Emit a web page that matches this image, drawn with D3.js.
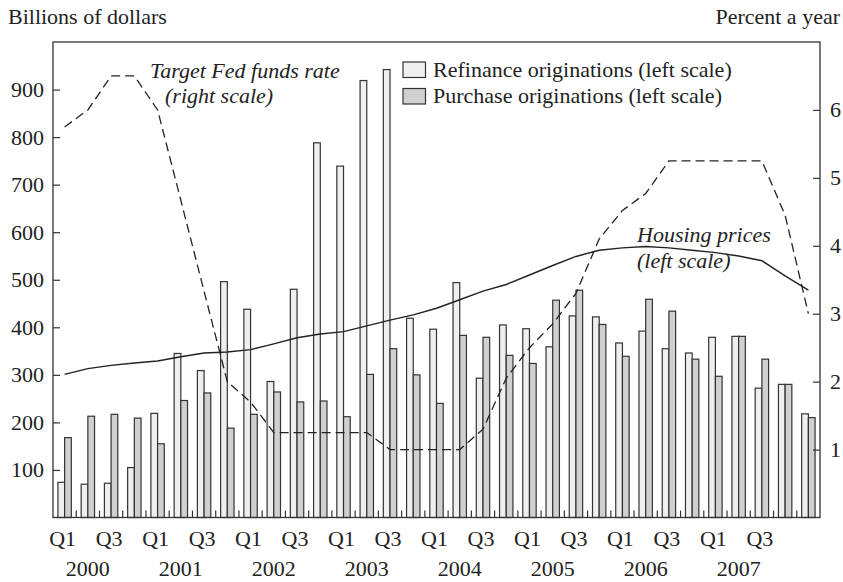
<!DOCTYPE html>
<html>
<head>
<meta charset="utf-8">
<script src="https://cdn.jsdelivr.net/npm/d3@7"></script>
<style>
  body { margin: 0; background: #fff; }
  svg text { font-family: "Liberation Serif", "Times New Roman", serif; fill: #222; }
</style>
</head>
<body>
<div id="chart"></div>
<script>
// quarters 2000 Q1 .. 2008 Q1
const quarters = d3.range(33)
const qLabels = ["Q1", "", "Q3", ""]
const years = ["2000", "2001", "2002", "2003", "2004", "2005", "2006", "2007"]

// billions of dollars
const refinance = [74, 70, 72, 105, 219, 345, 309, 496, 438, 286, 480, 788, 739, 919, 942, 419,
  396, 494, 293, 405, 397, 359, 424, 422, 367, 392, 355, 346, 379, 381, 272, 280, 218]
const purchase = [168, 213, 217, 209, 155, 246, 262, 188, 217, 264, 243, 245, 212, 301, 355, 300,
  240, 383, 379, 341, 324, 457, 478, 406, 339, 459, 434, 333, 297, 381, 333, 280, 210]
// housing prices, left scale
const housing = [301, 313, 320, 325, 329, 338, 346, 348, 353, 365, 378, 386, 391, 403, 415, 426,
  440, 458, 476, 490, 510, 530, 549, 562, 567, 570, 567, 562, 557, 550, 540, 508, 478]
// target fed funds rate, percent
const fedFunds = [5.75, 6.0, 6.5, 6.5, 6.0, 4.67, 3.33, 2.0, 1.7, 1.25, 1.25, 1.25, 1.25, 1.25, 1.0, 1.0,
  1.0, 1.0, 1.3, 2.05, 2.5, 2.85, 3.3, 4.1, 4.52, 4.77, 5.25, 5.25, 5.25, 5.25, 5.25, 4.45, 3.0]

const leftTicks = [100, 200, 300, 400, 500, 600, 700, 800, 900]
const rightTicks = [1, 2, 3, 4, 5, 6]

const width = 843, height = 582
const m = { left: 53, right: 820, top: 42, bottom: 517.5 }
const fontSize = 22

const svg = d3.select("#chart").append("svg")
  .attr("width", width)
  .attr("height", height)

const x = d3.scaleBand().domain(quarters).range([m.left, m.right]).padding(0)
const bw = x.bandwidth()
const barW = 6.7
const sub = d3.scaleBand().domain(["refi", "purch"]).range([bw / 2 - barW, bw / 2 + barW])
const y = d3.scaleLinear().domain([0, 1000]).range([m.bottom, m.top])
const yR = d3.scaleLinear().domain([0, 7]).range([m.bottom, m.top])

// bars
const g = svg.append("g")
g.selectAll("rect.refi")
  .data(refinance).enter()
  .append("rect")
  .attr("class", "refi")
  .attr("x", (d, i) => x(i) + sub("refi"))
  .attr("y", d => y(d))
  .attr("width", sub.bandwidth())
  .attr("height", d => y(0) - y(d))
  .attr("fill", "#efefef")
  .attr("stroke", "#333")
  .attr("stroke-width", 1.2)
g.selectAll("rect.purch")
  .data(purchase).enter()
  .append("rect")
  .attr("class", "purch")
  .attr("x", (d, i) => x(i) + sub("purch"))
  .attr("y", d => y(d))
  .attr("width", sub.bandwidth())
  .attr("height", d => y(0) - y(d))
  .attr("fill", "#d0d0d0")
  .attr("stroke", "#333")
  .attr("stroke-width", 1.2)

// lines
const lineL = d3.line().x((d, i) => x(i) + bw / 2).y(d => y(d))
const lineR = d3.line().x((d, i) => x(i) + bw / 2).y(d => yR(d))
svg.append("path")
  .attr("d", lineL(housing))
  .attr("fill", "none")
  .attr("stroke", "#222")
  .attr("stroke-width", 1.4)
svg.append("path")
  .attr("d", lineR(fedFunds))
  .attr("fill", "none")
  .attr("stroke", "#222")
  .attr("stroke-width", 1.3)
  .attr("stroke-dasharray", "9,5")

// frame
svg.append("rect")
  .attr("x", m.left).attr("y", m.top)
  .attr("width", m.right - m.left).attr("height", m.bottom - m.top)
  .attr("fill", "none").attr("stroke", "#333").attr("stroke-width", 1.3)

// axes (ticks inward)
const axL = svg.append("g").attr("transform", `translate(${m.left},0)`)
  .call(d3.axisRight(y).tickValues(leftTicks).tickSize(7).tickFormat(""))
const axR = svg.append("g").attr("transform", `translate(${m.right},0)`)
  .call(d3.axisLeft(yR).tickValues(rightTicks).tickSize(7).tickFormat(""))
;[axL, axR].forEach(a => {
  a.select(".domain").remove()
  a.selectAll("line").attr("stroke", "#333").attr("stroke-width", 1.2)
})

svg.selectAll("text.ly")
  .data(leftTicks).enter()
  .append("text")
  .attr("x", m.left - 9)
  .attr("y", d => y(d) + 7.5)
  .attr("text-anchor", "end")
  .attr("font-size", fontSize)
  .text(d => d)
svg.selectAll("text.ry")
  .data(rightTicks).enter()
  .append("text")
  .attr("x", m.right + 10)
  .attr("y", d => yR(d) + 7.5)
  .attr("font-size", fontSize)
  .text(d => d)

// x ticks at quarter boundaries
svg.selectAll("line.xt")
  .data(quarters.slice(1)).enter()
  .append("line")
  .attr("x1", d => x(d)).attr("x2", d => x(d))
  .attr("y1", m.bottom).attr("y2", m.bottom - 7)
  .attr("stroke", "#333").attr("stroke-width", 1.2)

svg.selectAll("text.q")
  .data(quarters.filter(q => qLabels[q % 4] && q < 32)).enter()
  .append("text")
  .attr("x", d => x(d) + bw / 2 - 2)
  .attr("y", 546)
  .attr("text-anchor", "middle")
  .attr("font-size", fontSize)
  .text(d => qLabels[d % 4])
svg.selectAll("text.yr")
  .data(years).enter()
  .append("text")
  .attr("x", (d, i) => x(i * 4 + 1) + bw / 2)
  .attr("y", 576)
  .attr("text-anchor", "middle")
  .attr("font-size", fontSize)
  .text(d => d)

// axis titles
svg.append("text").attr("x", 8).attr("y", 24).attr("font-size", fontSize).text("Billions of dollars")
svg.append("text").attr("x", 840).attr("y", 24).attr("text-anchor", "end").attr("font-size", fontSize).text("Percent a year")

// legend
const legend = [
  { label: "Refinance originations (left scale)", fill: "#efefef" },
  { label: "Purchase originations (left scale)", fill: "#d0d0d0" }
]
const lg = svg.append("g").attr("transform", "translate(403,62)")
legend.forEach((d, i) => {
  lg.append("rect").attr("x", 0).attr("y", i * 26.5).attr("width", 22.5).attr("height", 15.5)
    .attr("fill", d.fill).attr("stroke", "#333").attr("stroke-width", 1.2)
  lg.append("text").attr("x", 30).attr("y", i * 26.5 + 14.5).attr("font-size", fontSize).text(d.label)
})

// annotations
svg.append("text").attr("x", 150).attr("y", 78).attr("font-size", fontSize)
  .attr("font-style", "italic").text("Target Fed funds rate")
svg.append("text").attr("x", 165).attr("y", 103).attr("font-size", fontSize)
  .attr("font-style", "italic").text("(right scale)")
svg.append("text").attr("x", 637).attr("y", 242).attr("font-size", fontSize)
  .attr("font-style", "italic").text("Housing prices")
svg.append("text").attr("x", 637).attr("y", 268).attr("font-size", fontSize)
  .attr("font-style", "italic").text("(left scale)")
</script>
</body>
</html>
